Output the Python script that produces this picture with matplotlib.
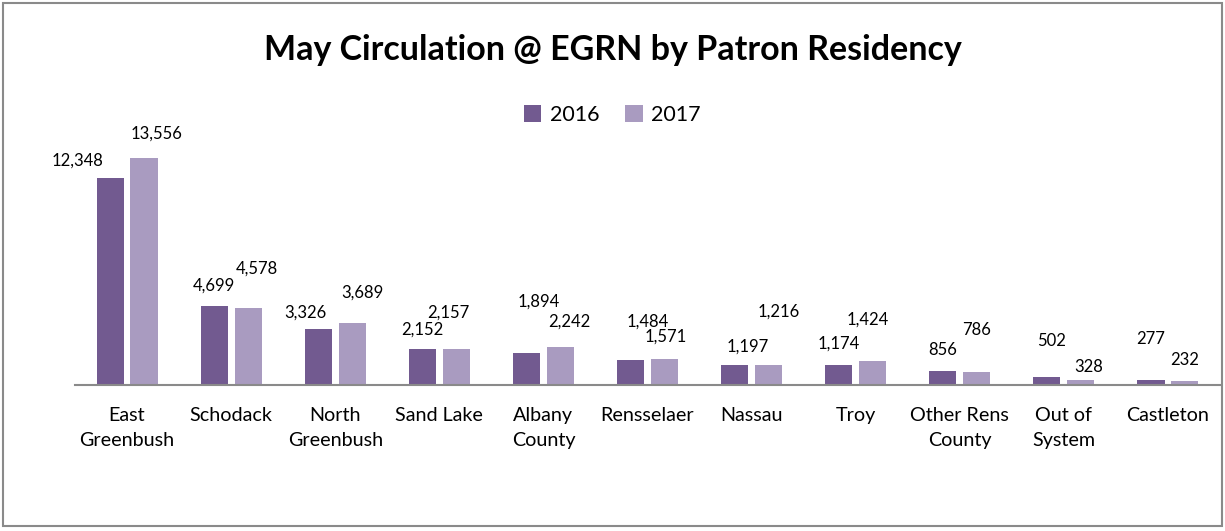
import matplotlib.pyplot as plt
import numpy as np
from matplotlib.patches import Rectangle

plt.rcParams['font.family'] = ['Lato', 'DejaVu Sans']

categories = ["East\nGreenbush", "Schodack", "North\nGreenbush", "Sand Lake", "Albany\nCounty",
              "Rensselaer", "Nassau", "Troy", "Other Rens\nCounty", "Out of\nSystem", "Castleton"]
vals_2016 = [12348, 4699, 3326, 2152, 1894, 1484, 1197, 1174, 856, 502, 277]
vals_2017 = [13556, 4578, 3689, 2157, 2242, 1571, 1216, 1424, 786, 328, 232]

# label offsets (pixels) from bar top, as in the original Excel layout
off_2016 = [(-33, 18), (0, 21), (-13, 17), (0, 19), (12, 52), (17, 39), (13, 18), (0, 22), (0, 21), (5, 36), (0, 41)]
off_2017 = [(13, 24), (9, 40), (10, 31), (-8, 36), (9, 26), (1, 22), (10, 53), (-5, 42), (0, 42), (8, 13), (0, 21)]

c16 = "#725A90"
c17 = "#A99BC0"

fig = plt.figure(figsize=(12.25, 5.31), dpi=100)
fig.patches.append(Rectangle((3 / 1225, 5 / 531), 1219 / 1225, 523 / 531, transform=fig.transFigure,
                             fill=False, edgecolor="#8a8a8a", linewidth=1.5))
ax = fig.add_axes([75 / 1225, 146 / 531, 1145 / 1225, 268 / 531])

x = np.arange(len(categories))
w = 0.26
b1 = ax.bar(x - 0.163, vals_2016, w, color=c16, label="2016")
b2 = ax.bar(x + 0.163, vals_2017, w, color=c17, label="2017")

for bars, vals, offs in [(b1, vals_2016, off_2016), (b2, vals_2017, off_2017)]:
    for b, v, (dx, dy) in zip(bars, vals, offs):
        ax.annotate(f"{v:,}", (b.get_x() + b.get_width() / 2, v), xytext=(dx, dy),
                    textcoords="offset pixels", ha="center", va="center", fontsize=12, color="#000000")

ax.set_xlim(-0.5, 10.5)
ax.set_ylim(0, 16000)
ax.set_xticks(x)
ax.set_xticklabels(categories, fontsize=14.2, linespacing=1.55)
ax.tick_params(axis="x", length=0, pad=16)
ax.set_yticks([])
for s in ["top", "right", "left"]:
    ax.spines[s].set_visible(False)
ax.spines["bottom"].set_color("#8a8a8a")
ax.spines["bottom"].set_linewidth(1.5)

fig.text(0.5, 1 - 50 / 531, "May Circulation @ EGRN by Patron Residency", ha="center", va="center",
         fontsize=24.5, fontweight="bold")
fig.legend(loc="center", bbox_to_anchor=(0.5, 1 - 115 / 531), ncol=2, frameon=False, fontsize=15.5,
           handlelength=0.8, handleheight=0.8, handletextpad=0.4, columnspacing=1.2)

fig.savefig("out.png", dpi=100)
